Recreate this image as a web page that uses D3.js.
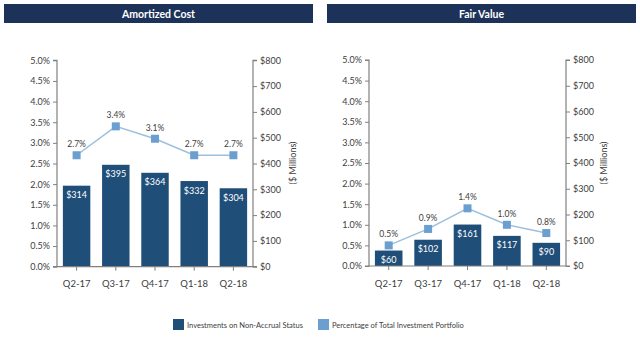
<!DOCTYPE html>
<html><head><meta charset="utf-8">
<script src="https://cdn.jsdelivr.net/npm/d3@7"></script>
<style>body{margin:0;background:#fff;}svg{display:block;font-family:Lato,"Open Sans",sans-serif;}</style>
</head><body><svg id="c" width="640" height="337"></svg>
<script>
const categories = ["Q2-17","Q3-17","Q4-17","Q1-18","Q2-18"];
const amortizedValues = [314,395,364,332,304];
const amortizedPct = [2.7,3.4,3.1,2.7,2.7];
const fairValues = [60,102,161,117,90];
const fairPct = [0.5,0.9,1.4,1.0,0.8];
const pctTicks = [0,0.5,1,1.5,2,2.5,3,3.5,4,4.5,5];
const dollarTicks = [0,100,200,300,400,500,600,700,800];
const panelTitles = ["Amortized Cost","Fair Value"];
const legendLabels = ["Investments on Non-Accrual Status","Percentage of Total Investment Portfolio"];

const barColor = "#1f4e79", lineColor = "#9dbfdf", markColor = "#6a9fcf", axisColor = "#808080", headColor = "#1d3258";
const svg = d3.select("#c");

const panels = [
  {title: panelTitles[0], vals: amortizedValues, pct: amortizedPct, hx: 4, hw: 309, x0: 57, x1: 253, yTop: 60.3, yBot: 266.7, lab: 296},
  {title: panelTitles[1], vals: fairValues, pct: fairPct, hx: 327, hw: 309, x0: 369, x1: 566, yTop: 60, yBot: 266, lab: 607}
];

panels.forEach(p => {
  const g = svg.append("g");
  g.append("rect").attr("x", p.hx).attr("y", 4).attr("width", p.hw).attr("height", 19).attr("fill", headColor);
  g.append("text").attr("x", p.hx + p.hw/2).attr("y", 17.5).attr("text-anchor","middle")
    .attr("fill","#fff").attr("font-weight","bold").attr("font-size",10.5).text(p.title);

  const x = d3.scaleBand().domain(categories).range([p.x0, p.x1]).paddingInner(0.3).paddingOuter(0.15);
  const yP = d3.scaleLinear().domain([0,5]).range([p.yBot, p.yTop]);
  const yD = d3.scaleLinear().domain([0,800]).range([p.yBot, p.yTop]);

  // bars
  g.selectAll(".bar").data(p.vals).join("rect")
    .attr("x",(d,i)=>x(categories[i])).attr("width",x.bandwidth())
    .attr("y",d=>yD(d)).attr("height",d=>yD(0)-yD(d)).attr("fill",barColor);
  g.selectAll(".bl").data(p.vals).join("text")
    .attr("x",(d,i)=>x(categories[i])+x.bandwidth()/2).attr("y",d=>yD(d)+12.5)
    .attr("text-anchor","middle").attr("fill","#fff").attr("font-size",9).text(d=>"$"+d);

  // axes
  const la = g.append("g").attr("transform",`translate(${p.x0},0)`)
    .call(d3.axisLeft(yP).tickValues(pctTicks).tickSize(4).tickFormat(d=>d.toFixed(1)+"%"));
  const ra = g.append("g").attr("transform",`translate(${p.x1},0)`)
    .call(d3.axisRight(yD).tickValues(dollarTicks).tickSize(4).tickFormat(d=>"$"+d));
  const ba = g.append("g").attr("transform",`translate(0,${p.yBot})`)
    .call(d3.axisBottom(x).tickSize(4).tickPadding(10));
  [la,ra,ba].forEach(a=>{
    a.selectAll("path").attr("stroke",axisColor).attr("stroke-width",1.2);
    a.selectAll("line").attr("stroke",axisColor);
    a.selectAll("text").attr("fill","#404040").attr("font-size",9).attr("font-family","Lato,'Open Sans',sans-serif");
  });
  la.select(".domain").attr("d",`M-4,${p.yTop}H0V${p.yBot}H-4`);
  ra.select(".domain").attr("d",`M4,${p.yTop}H0V${p.yBot}H4`);
  ba.select(".domain").attr("d",`M${p.x0},0H${p.x1}`);
  ba.selectAll("text").attr("font-size",9.5);

  // line
  const cx = (i)=>x(categories[i])+x.bandwidth()/2;
  const line = d3.line().x((d,i)=>cx(i)).y(d=>yP(d));
  g.append("path").datum(p.pct).attr("d",line).attr("fill","none").attr("stroke",lineColor).attr("stroke-width",1.5);
  g.selectAll(".mk").data(p.pct).join("rect")
    .attr("x",(d,i)=>cx(i)-4).attr("y",d=>yP(d)-4).attr("width",8).attr("height",8).attr("fill",markColor);
  g.selectAll(".pl").data(p.pct).join("text")
    .attr("x",(d,i)=>cx(i)).attr("y",d=>yP(d)-8).attr("text-anchor","middle")
    .attr("fill","#404040").attr("font-size",8.5).text(d=>d.toFixed(1)+"%");

  g.append("text").attr("transform",`translate(${p.lab},163) rotate(-90)`).attr("text-anchor","middle")
    .attr("fill","#404040").attr("font-size",9).text("($ Millions)");
});

// legend
const lg = svg.append("g");
[[173,legendLabels[0],barColor],[318,legendLabels[1],markColor]].forEach(([lx,t,c])=>{
  lg.append("rect").attr("x",lx).attr("y",319).attr("width",11).attr("height",11).attr("fill",c);
  lg.append("text").attr("x",lx+14).attr("y",327.5).attr("font-size",7.5).attr("fill","#404040").text(t);
});
</script></body></html>
